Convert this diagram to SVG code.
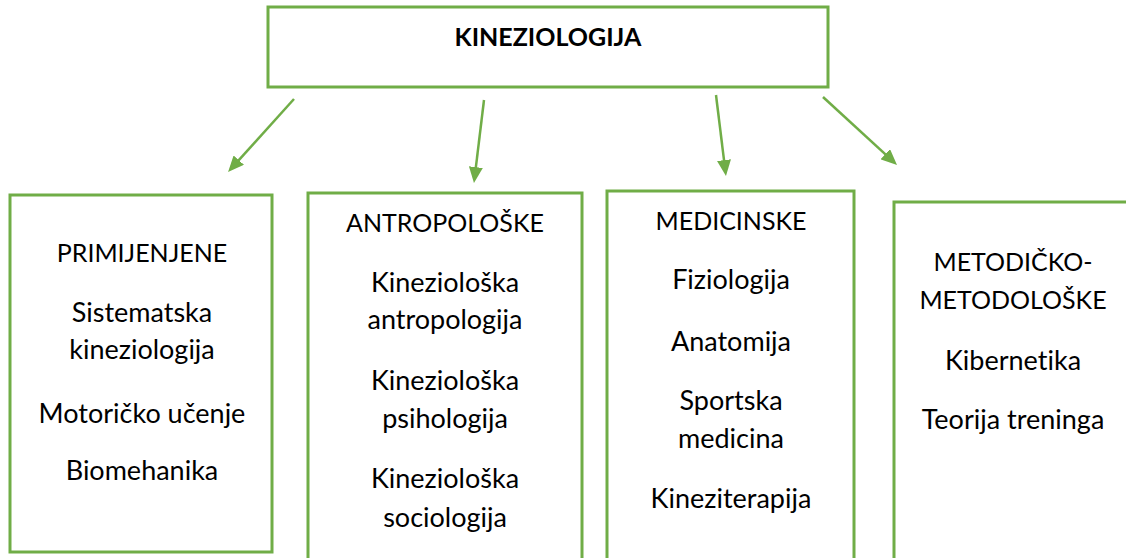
<svg xmlns="http://www.w3.org/2000/svg" width="1126" height="558" viewBox="0 0 1126 558">
<defs>
<style>
.box{fill:#fff;stroke:#70AD47;stroke-width:3}
.t{font-family:Lato,"Liberation Sans",sans-serif;font-size:27px;fill:#000;text-anchor:middle;font-variant-ligatures:none;font-feature-settings:"liga" 0}
.h{font-size:25px}
.b{font-weight:bold;font-size:25px}
.c{stroke:#70AD47;stroke-width:2.5;fill:none}
</style>
<marker id="ah" markerUnits="userSpaceOnUse" markerWidth="16" markerHeight="14" refX="4" refY="7" orient="auto">
<path d="M0,0 L16,7 L0,14 z" fill="#70AD47"/>
</marker>
</defs>
<rect width="1126" height="558" fill="#fff"/>
<g id="connectors">
<line class="c" x1="294" y1="99" x2="236.1" y2="163.1" marker-end="url(#ah)"/>
<line class="c" x1="484" y1="100" x2="475.4" y2="171.1" marker-end="url(#ah)"/>
<line class="c" x1="716" y1="95" x2="724.5" y2="164.1" marker-end="url(#ah)"/>
<line class="c" x1="823" y1="97" x2="888.2" y2="156.9" marker-end="url(#ah)"/>
</g>
<g id="kineziologija">
<rect class="box" x="268" y="7" width="560" height="80"/>
<text class="t b" x="548" y="46">KINEZIOLOGIJA</text>
</g>
<g id="primijenjene">
<rect class="box" x="10" y="195" width="262" height="357"/>
<text class="t h" x="142" y="262">PRIMIJENJENE</text>
<text class="t" x="142" y="322">Sistematska</text>
<text class="t" x="142" y="359">kineziologija</text>
<text class="t" x="142" y="423">Motoričko učenje</text>
<text class="t" x="142" y="480">Biomehanika</text>
</g>
<g id="antropoloske">
<rect class="box" x="308" y="193" width="274" height="400"/>
<text class="t h" x="445" y="232">ANTROPOLOŠKE</text>
<text class="t" x="445" y="292">Kineziološka</text>
<text class="t" x="445" y="329">antropologija</text>
<text class="t" x="445" y="390">Kineziološka</text>
<text class="t" x="445" y="428">psihologija</text>
<text class="t" x="445" y="488">Kineziološka</text>
<text class="t" x="445" y="527">sociologija</text>
</g>
<g id="medicinske">
<rect class="box" x="607" y="191" width="247" height="400"/>
<text class="t h" x="731" y="230">MEDICINSKE</text>
<text class="t" x="731" y="289">Fiziologija</text>
<text class="t" x="731" y="351">Anatomija</text>
<text class="t" x="731" y="410">Sportska</text>
<text class="t" x="731" y="448">medicina</text>
<text class="t" x="731" y="508">Kineziterapija</text>
</g>
<g id="metodicko">
<rect class="box" x="894" y="202" width="240" height="400"/>
<text class="t h" x="1013" y="271">METODIČKO-</text>
<text class="t h" x="1013" y="309">METODOLOŠKE</text>
<text class="t" x="1013" y="370">Kibernetika</text>
<text class="t" x="1013" y="429">Teorija treninga</text>
</g>
</svg>
